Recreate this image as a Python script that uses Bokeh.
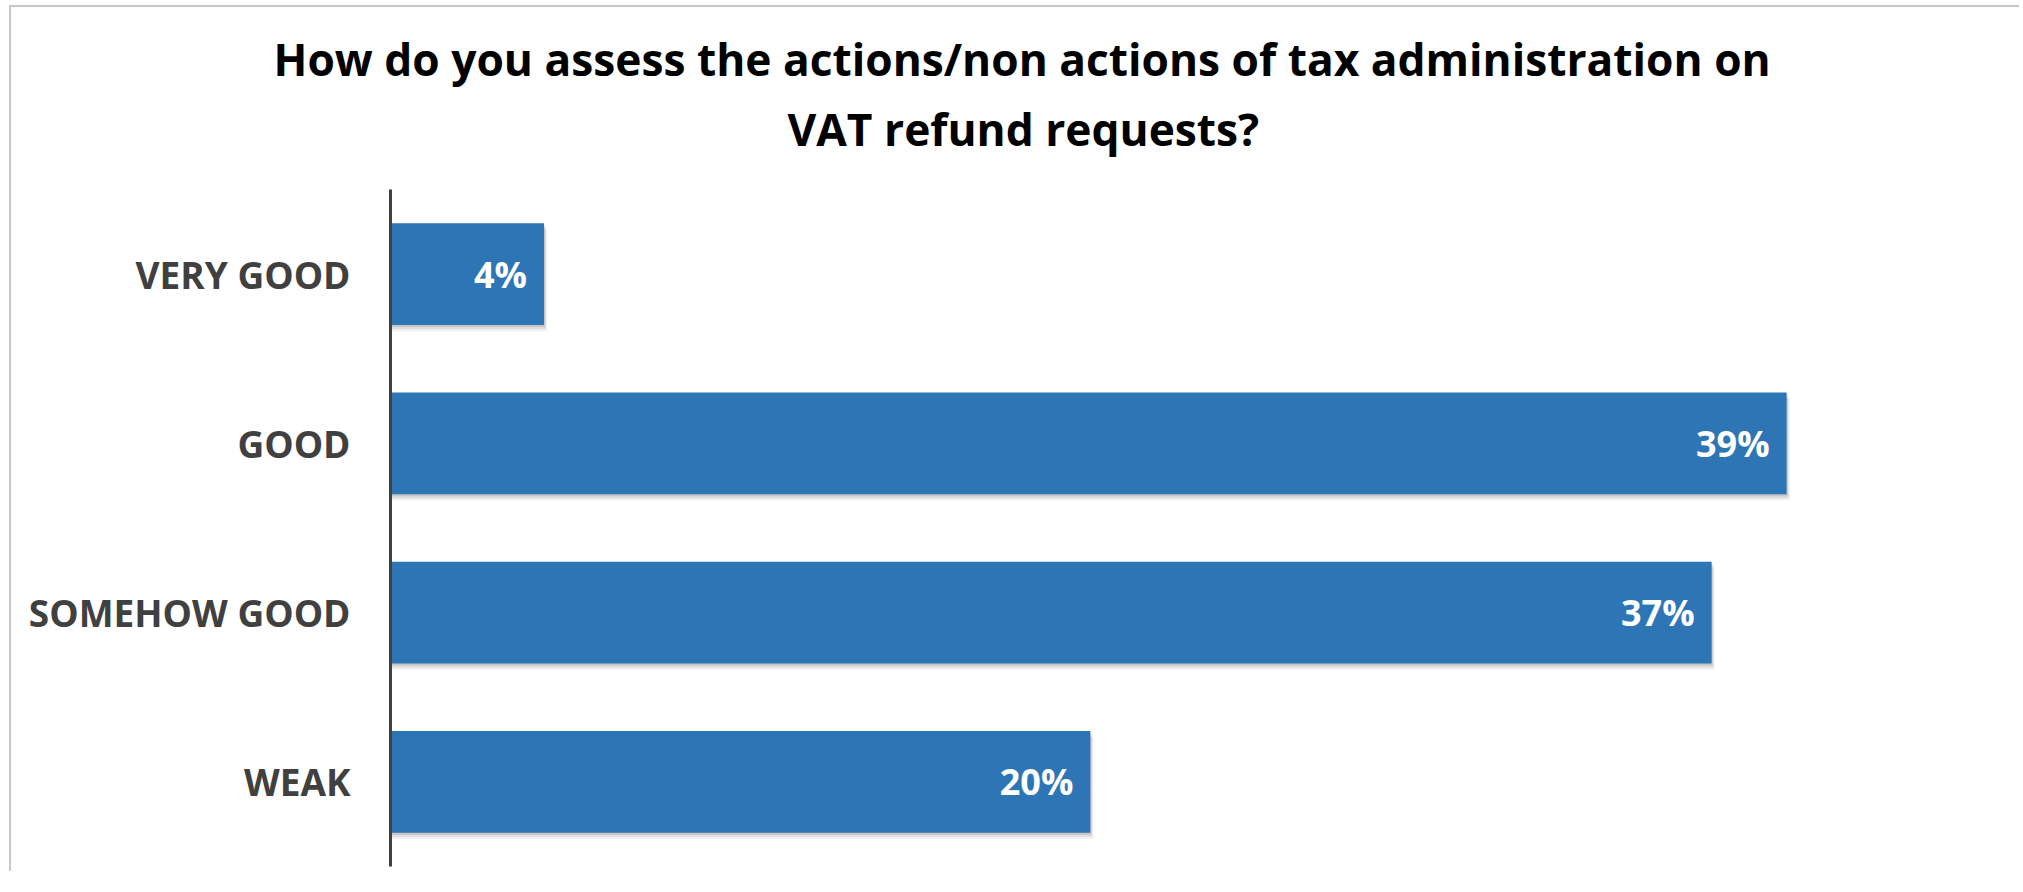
from bokeh.plotting import figure
from bokeh.models import FactorRange, Range1d, ColumnDataSource, Title
from bokeh.transform import dodge
from bokeh.core.properties import value
from bokeh.embed import file_html
from bokeh.resources import INLINE

# ---- data ----
title_lines = [
    "How do you assess the actions/non actions of tax administration on",
    "VAT refund requests?",
]
categories = ["VERY GOOD", "GOOD", "SOMEHOW GOOD", "WEAK"]
percent = [4.3, 39.1, 37.0, 19.6]
labels = ["4%", "39%", "37%", "20%"]

# ---- layout constants ----
W, H = 2010, 866
ML, MR, MT, MB = 379, 21, 182, 7
XMAX = 45.09
FRAME_W = W - ML - MR
FRAME_H = H - MT - MB
PX = FRAME_W / XMAX          # pixels per percent
CAT_PX = FRAME_H / len(categories)

BLUE = "#2E75B6"
DARK = "#404040"

source = ColumnDataSource(dict(cat=categories, val=percent, lab=labels))

p = figure(
    width=W, height=H,
    y_range=FactorRange(factors=categories[::-1]),
    x_range=Range1d(0, XMAX),
    output_backend="svg", toolbar_location=None,
    min_border_left=ML, min_border_right=MR,
    min_border_top=MT, min_border_bottom=MB,
)
p.styles = {"border-top": "2px solid #c8c8c8", "border-left": "2px solid #c8c8c8",
            "margin-left": "9px", "margin-top": "5px"}
p.title.visible = False
p.title.text_font_size = "0px"
p.title.standoff = 0

# soft drop shadow (layers offset down/right in pixels)
for dx, dy, a in [(1, 2, 0.10), (2, 4, 0.08), (3, 6, 0.06)]:
    sh = ColumnDataSource(dict(cat=categories, r=[v + dx / PX for v in percent]))
    p.hbar(y=dodge("cat", -dy / CAT_PX, range=p.y_range), left=0, right="r",
           height=0.6, fill_color="black", fill_alpha=a, line_color=None, source=sh)

p.hbar(y="cat", left=0, right="val", height=0.6, fill_color=BLUE,
       line_color=None, source=source)

p.text(x="val", y="cat", text="lab", x_offset=-17, text_align="right",
       text_baseline="middle", text_color="white",
       text_font=value("Open Sans"), text_font_style="bold",
       text_font_size="36px", source=source)

# title: second line added first so it sits closest to the frame
title_offsets = [-117, 397]
title_standoffs = [-44, 61]
for i in (1, 0):
    p.add_layout(Title(
        text=title_lines[i], align="left", offset=title_offsets[i],
        standoff=title_standoffs[i], vertical_align="bottom",
        text_font="Open Sans", text_font_style="bold",
        text_font_size="44.3px", text_color="black",
    ), "above")

p.xaxis.visible = False
p.xgrid.visible = False
p.ygrid.visible = False
p.outline_line_color = None

ax = p.yaxis[0]
ax.axis_line_width = 3
ax.axis_line_color = DARK
ax.major_tick_line_color = None
ax.minor_tick_line_color = None
ax.major_tick_out = 0
ax.major_label_standoff = 40
ax.major_label_text_font = "Open Sans"
ax.major_label_text_font_style = "bold"
ax.major_label_text_font_size = "37px"
ax.major_label_text_color = DARK

open("out.html", "w").write(file_html(p, INLINE))
